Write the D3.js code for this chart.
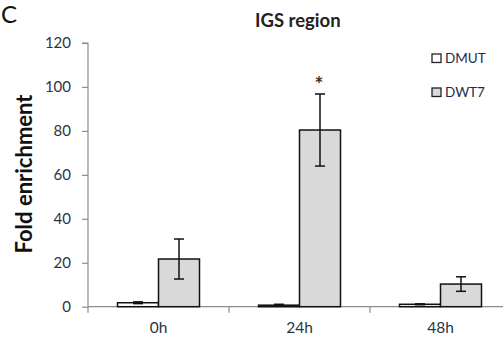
<!DOCTYPE html>
<html><head><meta charset="utf-8">
<script src="https://cdn.jsdelivr.net/npm/d3@7"></script>
<style>body{margin:0;background:#fff}svg{display:block}</style>
</head><body>
<script>
const categories = ["0h","24h","48h"];
const seriesNames = ["DMUT","DWT7"];
const dmutValues = [1.8, 0.7, 1.1];
const dmutErrors = [0.4, 0.4, 0.2];
const dwt7Values = [21.7, 80.4, 10.3];
const dwt7Errors = [9.1, 16.4, 3.3];
const yTicks = [0,20,40,60,80,100,120];
const significance = ["", "*", ""];

const W=503,H=337;
const svg=d3.select("body").append("svg").attr("width",W).attr("height",H);
const font="Lato, 'Open Sans', sans-serif";
const x0=d3.scaleBand().domain(categories).range([88,511]);
const x1=d3.scaleBand().domain(seriesNames).range([x0.bandwidth()/2-41, x0.bandwidth()/2+41]);
const y=d3.scaleLinear().domain([0,120]).range([306.7,43]);
const fills={DMUT:"#ffffff",DWT7:"#d9d9d9"};

// y axis
const ya=svg.append("g").attr("transform","translate(88,0)")
  .call(d3.axisLeft(y).tickValues(yTicks).tickSize(6).tickPadding(11));
ya.select(".domain").attr("stroke","#8c8c8c").attr("stroke-width",1.2).attr("d","M-6,"+y(120)+"H0V"+y(0));
ya.selectAll(".tick line").attr("stroke","#8c8c8c").attr("stroke-width",1.2);
ya.selectAll(".tick text").attr("font-family",font).attr("font-size",15).attr("fill","#2b3445");

// x axis
const xa=svg.append("g").attr("transform","translate(0,"+y(0)+")")
  .call(d3.axisBottom(x0).tickSize(0).tickPadding(15));
xa.select(".domain").attr("stroke","#8c8c8c").attr("stroke-width",1.2).attr("d","M88,0H511");
xa.selectAll(".tick text").attr("font-family",font).attr("font-size",15.5).attr("fill","#2b3445");
// category boundary ticks
const bounds=categories.map(c=>x0(c)).concat([x0(categories[2])+x0.bandwidth()]);
xa.selectAll("line.b").data(bounds).enter().append("line").attr("class","b")
  .attr("x1",d=>d).attr("x2",d=>d).attr("y1",0).attr("y2",6)
  .attr("stroke","#8c8c8c").attr("stroke-width",1.2);

const data=[];
categories.forEach((c,i)=>{
  data.push({c,s:"DMUT",v:dmutValues[i],e:dmutErrors[i]});
  data.push({c,s:"DWT7",v:dwt7Values[i],e:dwt7Errors[i]});
});
const g=svg.append("g");
g.selectAll("rect.bar").data(data).enter().append("rect").attr("class","bar")
  .attr("x",d=>x0(d.c)+x1(d.s)).attr("width",x1.bandwidth())
  .attr("y",d=>y(d.v)).attr("height",d=>y(0)-y(d.v))
  .attr("fill",d=>fills[d.s]).attr("stroke","#111").attr("stroke-width",1.5);
// error bars
const eb=g.selectAll("g.err").data(data).enter().append("g").attr("class","err")
  .attr("transform",d=>"translate("+(x0(d.c)+x1(d.s)+x1.bandwidth()/2)+",0)");
eb.append("line").attr("y1",d=>y(d.v+d.e)).attr("y2",d=>y(d.v-d.e)).attr("stroke","#111").attr("stroke-width",1.5);
eb.append("line").attr("x1",-5).attr("x2",5).attr("y1",d=>y(d.v+d.e)).attr("y2",d=>y(d.v+d.e)).attr("stroke","#111").attr("stroke-width",1.5);
eb.append("line").attr("x1",-5).attr("x2",5).attr("y1",d=>y(d.v-d.e)).attr("y2",d=>y(d.v-d.e)).attr("stroke","#111").attr("stroke-width",1.5);

// significance
svg.selectAll("text.sig").data(categories).enter().append("text").attr("class","sig")
  .attr("x",c=>x0(c)+x1("DWT7")+x1.bandwidth()/2-1)
  .attr("y",(c,i)=>y(dwt7Values[i]+dwt7Errors[i])-2)
  .attr("text-anchor","middle").attr("font-family",font).attr("font-size",21).attr("font-weight","bold")
  .attr("fill","#333").text((c,i)=>significance[i]);

// title
svg.append("text").attr("x",255).attr("y",27).attr("font-family",font).attr("font-weight","bold")
  .attr("font-size",18.5).attr("fill","#222").text("IGS region");
svg.append("text").attr("x",1).attr("y",23).attr("font-family",font)
  .attr("font-size",24).attr("fill","#111").text("C");
svg.append("text").attr("transform","translate(32,174) rotate(-90)").attr("text-anchor","middle")
  .attr("font-family",font).attr("font-weight","bold").attr("font-size",22).attr("fill","#111").text("Fold enrichment");

// legend
const lg=svg.selectAll("g.lg").data(seriesNames).enter().append("g").attr("class","lg")
  .attr("transform",(d,i)=>"translate(432,"+(54+i*34)+")");
lg.append("rect").attr("width",9).attr("height",8.5).attr("fill",d=>fills[d]).attr("stroke","#222").attr("stroke-width",1.3);
lg.append("text").attr("x",13).attr("y",9).attr("font-family",font).attr("font-size",13.5).attr("fill","#1f2a4a").text(d=>d);
</script>
</body></html>
